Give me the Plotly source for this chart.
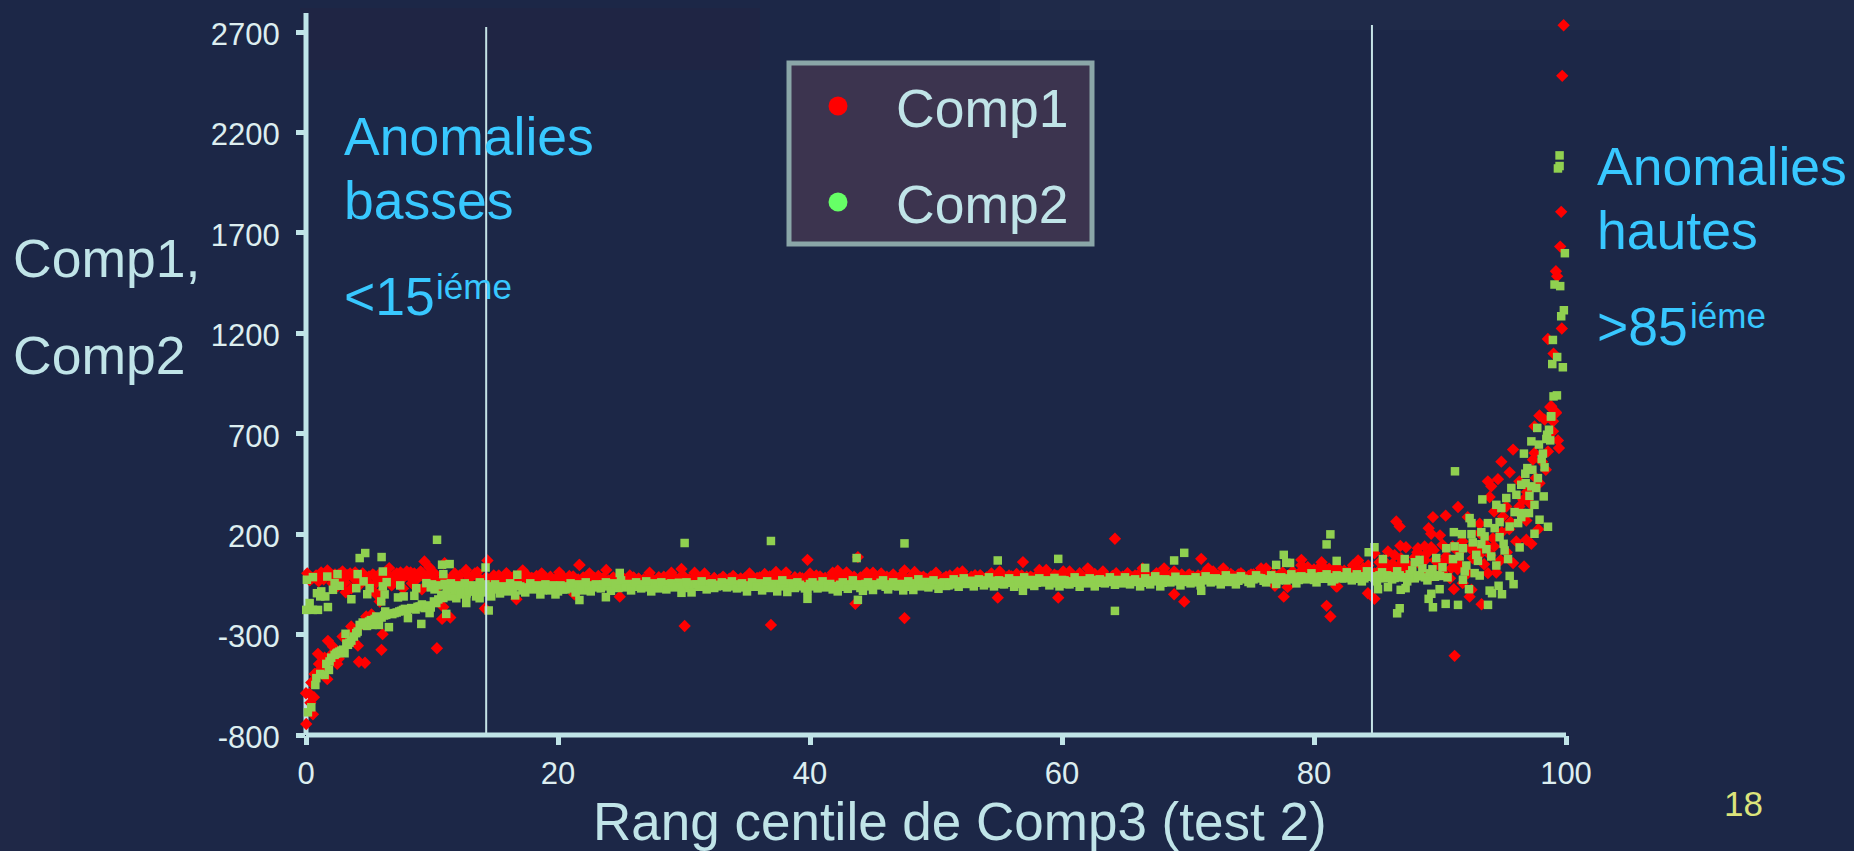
import plotly.graph_objects as go

W, H = 1854, 851
L, R, T, B = 306, 1566, 13, 735

TEXT = "#C0E4E8"
TICK_TEXT = "#DDEEF0"
CYAN = "#38C8FF"
RED = "#FF0000"
GREEN = "#90D050"
FONT = "Liberation Sans"

x_ticks = [0, 20, 40, 60, 80, 100]
y_ticks = [-800, -300, 200, 700, 1200, 1700, 2200, 2700]
y_tick_labels = ["-800", "-300", "200", "700", "1200", "1700", "2200", "2700"]
y_top = 2795
thresholds = [14.3, 84.6]
threshold_tops = [2725, 2735]
threshold_bottom = -790

# Comp1
comp1_low_x = [0.02, 0.55, 0.0, 0.29, 0.63, 0.42, 1.69, 0.68, 1.03, 2.48, 0.95, 1.74, 2.14, 1.48, 4.2, 4.68, 4.12, 5.99, 6.08, 3.59,
               4.78, 10.39, 10.8, 11.45, 10.9, 14.2, 16.7, 21.3, 3.15, 5.6, 5.85, 1.2, 2.0, 2.9, 3.4, 4.4, 5.2, 0.35, 1.4, 2.6]
comp1_low_y = [-745, -697, -592, -595, -612, -539, -522, -496, -446, -446, -396, -331, -360, -415, -435, -440, -355, -376, -298, -260,
               -210, -368, -222, -215, -163, -170, -124, -100, -89, -100, -135, -470, -400, -310, -300, -250, -200, -640, -490, -420]
comp1_left_x = [0.1, 0.3, 0.5, 0.8, 1.0, 1.2, 1.4, 1.7, 1.9, 2.1,
                2.3, 2.5, 2.7, 2.9, 3.1, 3.3, 3.6, 3.8, 4.0, 4.3,
                4.5, 4.7, 5.0, 5.2, 5.4, 5.6, 5.8, 6.0, 6.3, 6.5,
                6.6, 6.8, 7.0, 7.3, 7.5, 7.7, 8.0, 8.2, 8.4, 8.6,
                8.8, 9.0, 9.2, 9.4, 9.6, 9.8, 10.0, 10.2, 10.5, 10.8,
                11.0, 11.3, 11.6, 11.9, 12.2, 12.5, 12.7, 13.0, 13.3, 13.6,
                13.9, 14.1, 14.4, 14.7, 15.0, 15.3, 15.6, 15.9, 16.2, 16.5,
                1.1, 1.5, 1.8, 2.2, 2.6, 3.0, 3.5, 3.9, 4.2, 4.6,
                4.9, 5.3, 5.7, 6.1, 6.4, 6.9, 7.2, 7.6, 7.9, 8.3,
                8.7, 9.1, 9.5, 9.9, 10.4, 10.9, 11.4, 11.8, 12.3, 12.9,
                13.4, 13.8, 14.3, 14.9, 15.5, 16.1]
comp1_left_y = [5, -30, -20, -5, -35, 10, -25, 20, -10, -45,
                0, -60, -15, 15, -40, -5, -70, -20, 0, -50,
                5, -30, -10, -75, -5, -40, 0, -85, 10, -20,
                31, -55, -5, -30, 10, -70, 15, -10, -45, 5,
                -20, -5, -75, 64, -30, 34, -10, 5, -60, -25,
                56, -45, -15, -30, -5, -50, 22, -20, -70, 11,
                -30, -80, 69, -40, -15, -5, -50, 6, -25, -10,
                -15, -5, 5, -20, 0, -25, 5, 10, -30, -10,
                -40, 0, -20, 5, -35, -15, 5, -25, -5, 10,
                -30, 15, -10, 10, -35, -5, -25, 5, -40, -10,
                5, -25, -15, -5, -20, -10]
comp1_mid_x = [16.8, 17.2, 17.5, 17.9, 18.3, 18.7, 19.0, 19.4, 19.7, 20.1,
               20.5, 20.9, 21.7, 22.1, 22.5, 22.9, 23.2, 23.5, 23.83, 24.3,
               25.0, 25.7, 26.4, 27.27, 28.0, 29.0, 29.8, 30.84, 31.63, 32.4,
               33.1, 33.9, 34.5, 35.2, 35.8, 36.4, 37.3, 38.1, 38.8, 39.4,
               40.0, 40.5, 41.2, 41.8, 42.2, 42.9, 43.5, 44.5, 45.0, 45.65,
               46.1, 46.6, 47.5, 48.3, 49.0, 50.0, 50.6, 51.1, 51.7, 52.1,
               53.1, 53.5, 54.4, 55.05, 55.8, 56.4, 56.9, 57.5, 58.2, 58.75,
               59.4, 60.1, 60.6, 61.4, 62.05, 62.6, 63.25, 64.3, 65.2, 65.8,
               66.4, 67.5, 68.1, 68.9, 69.5, 70.1, 71.05, 71.6, 72.0, 72.8,
               73.4, 74.2, 75.0, 75.8, 76.2, 77.5, 78.3, 79.0, 79.5, 80.0,
               80.6, 81.2, 81.8, 82.4, 83.1, 83.5, 83.9, 84.3, 84.8, 85.2]
comp1_mid_y = [-12, 20, -2, -18, -8, 5, -22, -12, -28, 10,
               -18, -8, 47, -22, 5, -18, -8, -22, 22, -22,
               -18, -6, -22, 8, -14, 8, 27, 8, 4, -18,
               -12, -8, -20, 4, -18, 2, 12, 10, -14, -20,
               4, -6, -18, 8, 18, 10, -12, 8, 8, 4,
               -12, 0, 20, 12, -12, 8, -20, -6, 8, 14,
               -4, -4, 4, 14, -6, 2, 61, -12, 22, 22,
               -2, 14, 14, 6, 30, 2, 14, 6, 6, -6,
               30, 6, 30, 14, 0, 0, 77, 30, 14, 30,
               2, 6, 0, 30, 30, 10, 14, 45, 36, 24,
               45, 28, 36, 18, 45, 69, 32, 44, 105, 60]
# solid part of the red band, mostly hidden behind the green
comp1_fill_x = [15.2, 15.6, 16.0, 16.4, 16.8, 17.2, 17.6, 18.0, 18.4, 18.8,
                19.2, 19.6, 20.0, 20.4, 20.8, 21.2, 21.6, 22.0, 22.4, 22.8,
                23.2, 23.6, 24.0, 24.4, 24.8, 25.2, 25.6, 26.0, 26.4, 26.8,
                27.2, 27.6, 28.0, 28.4, 28.8, 29.2, 29.6, 30.0, 30.4, 30.8,
                31.2, 31.6, 32.0, 32.4, 32.8, 33.2, 33.6, 34.0, 34.4, 34.8,
                35.2, 35.6, 36.0, 36.4, 36.8, 37.2, 37.6, 38.0, 38.4, 38.8,
                39.2, 39.6, 40.0, 40.4, 40.8, 41.2, 41.6, 42.0, 42.4, 42.8,
                43.2, 43.6, 44.0, 44.4, 44.8, 45.2, 45.6, 46.0, 46.4, 46.8,
                47.2, 47.6, 48.0, 48.4, 48.8, 49.2, 49.6, 50.0, 50.4, 50.8,
                51.2, 51.6, 52.0, 52.4, 52.8, 53.2, 53.6, 54.0, 54.4, 54.8,
                55.2, 55.6, 56.0, 56.4, 56.8, 57.2, 57.6, 58.0, 58.4, 58.8,
                59.2, 59.6, 60.0, 60.4, 60.8, 61.2, 61.6, 62.0, 62.4, 62.8,
                63.2, 63.6, 64.0, 64.4, 64.8, 65.2, 65.6, 66.0, 66.4, 66.8,
                67.2, 67.6, 68.0, 68.4, 68.8, 69.2, 69.6, 70.0, 70.4, 70.8,
                71.2, 71.6, 72.0, 72.4, 72.8, 73.2, 73.6, 74.0, 74.4, 74.8,
                75.2, 75.6, 76.0, 76.4, 76.8, 77.2, 77.6, 78.0, 78.4, 78.8,
                79.2, 79.6, 80.0, 80.4, 80.8, 81.2, 81.6, 82.0, 82.4, 82.8,
                83.2, 83.6, 84.0, 84.4, 84.8, 85.2, 85.6, 86.0, 86.4, 86.8]
comp1_fill_y = [-20, -25, -15, -30, -25, -10, -30, -20, -25, -15,
                -25, -30, -15, -20, -30, -10, -25, -15, -30, -20,
                -25, -20, -30, -15, -25, -20, -30, -15, -22, -25,
                -15, -30, -20, -12, -25, -15, -20, -10, -25, -18,
                -20, -15, -30, -20, -25, -18, -22, -15, -28, -20,
                -12, -25, -15, -20, -10, -25, -18, -12, -28, -20,
                -15, -25, -18, -22, -10, -28, -15, -20, -8, -25,
                -12, -22, -15, -10, -25, -12, -18, -22, -15, -20,
                -8, -25, -12, -20, -15, -22, -10, -18, -25, -12,
                -20, -15, -8, -18, -12, -22, -10, -15, -12, -20,
                -5, -15, -10, -18, -5, -12, -15, -5, -10, -5,
                -15, -8, -5, -12, -8, -15, -5, -10, 0, -12,
                -5, -15, -8, -5, -12, -8, -15, -5, 0, -8,
                -12, -5, 0, -8, -5, -10, -12, -5, -10, -5,
                0, 5, -5, -8, 0, -5, -8, 0, -5, -8,
                0, 5, 5, -5, 0, -5, 0, -5, 5, 5,
                10, 5, 0, 10, 15, 5, 15, 5, 10, 15,
                5, 20, 10, 15, 5, 20, 30, 15, 40, 25]
comp1_out_x = [21.7, 39.8, 43.8, 24.9, 30.05, 36.9, 43.6, 47.5, 64.2, 54.9,
               59.7, 68.9, 69.7, 81.0, 81.3, 77.6, 76.9, 77.9, 81.85, 81.77,
               84.28, 84.8, 79.0, 80.6]
comp1_out_y = [47, 72, 86, -111, -257, -252, -147, -218, 177, -116,
               -116, -99, -136, -157, -210, -111, -57, -64, -60, -61,
               -94, -122, 72, 60]
comp1_high_x = [85.87, 86.53, 86.8, 86.85, 87.3, 88.25, 88.78, 89.1, 89.3, 89.3,
                89.44, 90.0, 90.2, 90.45, 91.0, 91.1, 91.16, 91.43, 91.8, 91.8,
                92.2, 92.35, 92.5, 93.15, 93.15, 93.3, 93.8, 93.8, 93.94, 94.07,
                94.3, 94.3, 94.47, 94.6, 94.87, 95.0, 95.26, 95.5, 95.53, 95.8,
                95.8, 96.05, 96.3, 96.3, 96.6, 96.67, 96.85, 96.85, 97.25, 97.38,
                97.5, 97.5, 97.8, 97.9, 97.9, 98.3, 98.4, 98.57, 98.83, 98.97,
                98.97, 99.2, 99.36, 99.44, 97.9, 98.75, 99.2, 99.01, 98.56, 99.67,
                99.3, 99.2, 99.54, 99.62, 99.7, 99.81,
                85.5, 86.0, 86.4, 87.0, 87.6, 88.0, 88.4, 88.9, 89.6, 90.0,
                90.5, 91.0, 91.5, 92.0, 92.6, 93.0, 93.5, 94.0, 94.8, 95.3,
                85.9, 86.5, 87.2, 87.8, 88.6, 89.2, 90.2, 90.8, 91.4, 92.2,
                86.2, 86.9, 87.5, 88.2, 88.8, 89.5, 90.3, 90.9, 91.6, 92.4,
                93.1, 93.6, 94.2, 94.9, 95.6, 96.2, 96.9, 97.2, 97.6, 98.1]
comp1_high_y = [114, 263, 238, 142, 135, 130, 139, 230, 202, 135,
                285, 194, 147, 292, 139, -74, -406, 335, 164, -44,
                285, -111, -77, 252, 205, -149, 463, 6, 385, 438,
                313, 139, 9, 474, 561, 288, 338, 225, 508, 621,
                56, 164, 463, 338, 371, 39, 268, 172, 152, 571,
                737, 604, 225, 790, 454, 770, 521, 612, 837, 712,
                762, 807, 667, 629, 790, 833, 803, 1099, 1172, 1224,
                1484, 1509, 1632, 1805, 2482, 2734,
                70, 40, 95, 60, 30, 85, 50, 100, 70, 40,
                90, 60, 110, 25, 80, 120, 50, 95, 70, 110,
                10, -5, 15, -10, 5, -15, 10, -20, 25, 5,
                50, 80, 45, 110, 70, 120, 65, 30, 45, 130,
                95, 150, 180, 210, 260, 310, 410, 350, 480, 560]

# Comp2
comp2_curve_x = [0.15, 0.42, 0.74, 0.82, 1.13, 1.48, 1.82, 1.61, 1.87, 2.27,
                 2.8, 3.06, 3.33, 3.6, 3.99, 4.26, 4.84, 5.31, 5.79, 5.58,
                 6.37, 7.03, 7.7, 8.09, 8.35, 9.02, 9.81, 9.41, 10.34, 10.74,
                 11.13, 11.93, 12.72, 13.78, 2.5, 3.2, 4.5, 5.0, 6.0, 6.7,
                 7.4, 8.0, 8.7, 9.2, 9.9, 10.5, 11.5,
                 2.0, 2.4, 2.65, 2.95, 3.45, 3.8, 4.1, 4.65, 5.15, 5.45,
                 6.2, 6.85, 7.2, 7.55, 7.85, 8.5, 8.85, 9.55, 10.15, 10.9]
comp2_curve_y = [-687, -662, -551, -517, -496, -501, -476, -446, -434, -401,
                 -380, -393, -351, -330, -293, -252, -257, -252, -252, -210,
                 -202, -193, -177, -218, -168, -160, -193, -168, -143, -102,
                 -102, -119, -102, -119, -390, -345, -240, -235, -215, -195,
                 -185, -180, -175, -150, -165, -125, -110,
                 -415, -395, -385, -375, -340, -310, -285, -245, -228, -222,
                 -205, -198, -190, -182, -172, -170, -162, -155, -135, -118]
comp2_upper_x = [10.4, 4.7, 4.26, 6.0, 11.4, 10.8, 14.25, 6.1, 10.9, 4.1,
                 2.5, 1.69, 0.55, 0.07, 16.77, 6.4, 4.57, 2.27, 2.67, 7.48,
                 2.14, 5.05, 3.99, 6.1, 1.21, 0.87, 1.13, 1.53, 4.86, 6.24,
                 3.6, 5.97, 7.3, 7.75, 0.29, 1.74, 0.02, 0.55, 0.95, 9.55,
                 8.75, 8.6, 12.72, 11.13, 14.5, 9.15, 6.58, 6.29, 3.14, 21.7,
                 10.0, 10.6, 11.0, 11.5, 12.0, 9.9, 10.2, 11.2, 11.8]
comp2_upper_y = [172, 106, 81, 86, 51, 48, 34, 14, 1, 1,
                 1, -11, -14, -27, -2, -39, -35, -44, -57, -55,
                 -77, -69, -69, -60, -85, -94, -110, -110, -99, -100,
                 -124, -135, -115, -110, -143, -163, -177, -177, -177, -44,
                 -69, -107, -143, -197, -180, -247, -263, -185, -296, -128,
                 -50, -55, -48, -45, -55, -65, -75, -70, -80]
comp2_band_x = [12.0, 12.3, 12.6, 12.9, 13.2, 13.5, 13.8, 14.1, 14.4, 14.7,
                15.0, 15.4, 15.8, 16.2, 16.6, 17.0, 17.4, 17.8, 18.2, 18.6,
                19.0, 19.4, 19.8, 20.2, 20.6, 21.0, 21.4, 21.8, 22.2, 22.6,
                23.0, 23.4, 23.8, 24.2, 24.6, 25.0, 25.4, 25.8, 26.2, 26.6,
                27.0, 27.4, 27.8, 28.2, 28.6, 29.0, 29.4, 29.8, 30.2, 30.6,
                31.0, 31.4, 31.8, 32.2, 32.6, 33.0, 33.4, 33.8, 34.2, 34.6,
                35.0, 35.4, 35.8, 36.2, 36.6, 37.0, 37.4, 37.8, 38.2, 38.6,
                39.0, 39.4, 39.8, 40.2, 40.6, 41.0, 41.4, 41.8, 42.2, 42.6,
                43.0, 43.4, 43.8, 44.2, 44.6, 45.0, 45.4, 45.8, 46.2, 46.6,
                47.0, 47.4, 47.8, 48.2, 48.6, 49.0, 49.4, 49.8, 50.2, 50.6,
                51.0, 51.4, 51.8, 52.2, 52.6, 53.0, 53.4, 53.8, 54.2, 54.6,
                55.0, 55.4, 55.8, 56.2, 56.6, 57.0, 57.4, 57.8, 58.2, 58.6,
                59.0, 59.4, 59.8, 60.2, 60.6, 61.0, 61.4, 61.8, 62.2, 62.6,
                63.0, 63.4, 63.8, 64.2, 64.6, 65.0, 65.4, 65.8, 66.2, 66.6,
                67.0, 67.4, 67.8, 68.2, 68.6, 69.0, 69.4, 69.8, 70.2, 70.6,
                71.0, 71.4, 71.8, 72.2, 72.6, 73.0, 73.4, 73.8, 74.2, 74.6,
                75.0, 75.4, 75.8, 76.2, 76.6, 77.0, 77.4, 77.8, 78.2, 78.6,
                79.0, 79.4, 79.8, 80.2, 80.6, 81.0, 81.4, 81.8, 82.2, 82.6,
                83.0, 83.4, 83.8, 84.2, 84.6, 85.0, 85.4, 85.8, 86.2, 86.6,
                87.0, 87.4, 87.8, 88.2, 88.6, 89.0, 89.4, 89.8, 90.2, 90.6]
comp2_band_y = [-60, -100, -45, -85, -55, -110, -40, -90, -60, -110,
                -50, -95, -65, -45, -105, -60, -90, -45, -70, -100,
                -50, -80, -100, -55, -75, -45, -90, -60, -40, -85,
                -50, -70, -40, -82, -50, -30, -65, -80, -40, -70,
                -35, -85, -50, -40, -75, -45, -60, -92, -40, -90,
                -50, -35, -75, -45, -60, -40, -65, -35, -70, -45,
                -85, -40, -60, -80, -35, -55, -85, -30, -88, -50,
                -40, -60, -82, -40, -70, -35, -55, -75, -85, -40,
                -72, -30, -50, -82, -40, -78, -55, -30, -75, -40,
                -60, -80, -35, -78, -25, -50, -65, -30, -72, -40,
                -55, -25, -62, -20, -45, -60, -25, -55, -15, -60,
                -30, -50, -20, -62, -40, -15, -50, -58, -20, -40,
                -55, -18, -60, -30, -50, -15, -62, -35, -20, -60,
                -25, -45, -15, -52, -30, -15, -50, -25, -60, -20,
                -50, -10, -60, -25, -40, -12, -55, -25, -45, -15,
                -55, -10, -40, -20, -50, -5, -30, -50, -10, -25,
                -45, -5, -20, -40, -5, -48, -15, -30, 0, -45,
                -10, -25, 5, -40, -10, 0, -35, -5, -20, 10,
                -30, 0, -35, 15, -10, -35, 10, -5, -25, 15,
                -15, -35, 20, -10, 30, -30, 25, -5, 35, -15]
comp2_fill_x = [12.15, 12.45, 12.75, 13.05, 13.35, 13.65, 13.95, 14.25, 14.55, 14.85,
                15.2, 15.6, 16.0, 16.4, 16.8, 17.2, 17.6, 18.0, 18.4, 18.8,
                19.2, 19.6, 20.0, 20.4, 20.8, 21.2, 21.6, 22.0, 22.4, 22.8,
                23.2, 23.6, 24.0, 24.4, 24.8, 25.2, 25.6, 26.0, 26.4, 26.8,
                27.2, 27.6, 28.0, 28.4, 28.8, 29.2, 29.6, 30.0, 30.4, 30.8,
                31.2, 31.6, 32.0, 32.4, 32.8, 33.2, 33.6, 34.0, 34.4, 34.8,
                35.2, 35.6, 36.0, 36.4, 36.8, 37.2, 37.6, 38.0, 38.4, 38.8,
                39.2, 39.6, 40.0, 40.4, 40.8, 41.2, 41.6, 42.0, 42.4, 42.8,
                43.2, 43.6, 44.0, 44.4, 44.8, 45.2, 45.6, 46.0, 46.4, 46.8,
                47.2, 47.6, 48.0, 48.4, 48.8, 49.2, 49.6, 50.0, 50.4, 50.8,
                51.2, 51.6, 52.0, 52.4, 52.8, 53.2, 53.6, 54.0, 54.4, 54.8,
                55.2, 55.6, 56.0, 56.4, 56.8, 57.2, 57.6, 58.0, 58.4, 58.8,
                59.2, 59.6, 60.0, 60.4, 60.8, 61.2, 61.6, 62.0, 62.4, 62.8,
                63.2, 63.6, 64.0, 64.4, 64.8, 65.2, 65.6, 66.0, 66.4, 66.8,
                67.2, 67.6, 68.0, 68.4, 68.8, 69.2, 69.6, 70.0, 70.4, 70.8,
                71.2, 71.6, 72.0, 72.4, 72.8, 73.2, 73.6, 74.0, 74.4, 74.8,
                75.2, 75.6, 76.0, 76.4, 76.8, 77.2, 77.6, 78.0, 78.4, 78.8,
                79.2, 79.6, 80.0, 80.4, 80.8, 81.2, 81.6, 82.0, 82.4, 82.8,
                83.2, 83.6, 84.0, 84.4, 84.8, 85.2, 85.6, 86.0, 86.4, 86.8,
                87.2, 87.6, 88.0, 88.4, 88.8, 89.2, 89.6, 90.0]
comp2_fill_y = [-75, -65, -95, -70, -85, -60, -75, -50, -85, -70,
                -75, -60, -85, -70, -55, -80, -65, -75, -55, -80,
                -70, -55, -85, -75, -60, -70, -50, -80, -65, -55,
                -65, -50, -60, -45, -68, -55, -48, -62, -55, -50,
                -65, -45, -70, -58, -48, -65, -42, -58, -68, -50,
                -62, -55, -48, -68, -52, -58, -45, -60, -50, -65,
                -55, -62, -45, -55, -68, -48, -60, -55, -45, -68,
                -52, -70, -48, -60, -52, -65, -48, -58, -52, -62,
                -50, -58, -68, -48, -60, -50, -42, -62, -50, -58,
                -48, -62, -52, -45, -60, -38, -55, -45, -52, -58,
                -40, -50, -35, -48, -32, -42, -38, -30, -45, -32,
                -48, -35, -42, -30, -48, -35, -28, -42, -38, -30,
                -45, -35, -28, -48, -35, -42, -30, -45, -38, -28,
                -42, -32, -38, -28, -45, -35, -30, -38, -42, -30,
                -35, -25, -42, -30, -35, -25, -38, -30, -25, -40,
                -30, -20, -35, -28, -25, -38, -18, -32, -22, -38,
                -25, -18, -32, -25, -15, -30, -20, -25, -12, -28,
                -20, -15, -28, -12, -22, -15, -25, -10, -20, -12,
                -22, -10, -20, -12, -18, -5, -20, -10, -18, -5,
                -15, 0, -20, -5, -15, 5, -12, -8]
comp2_out_x = [30.05, 36.9, 47.5, 43.7, 43.8, 39.8, 23.8, 24.9, 54.9, 59.7,
               64.2, 69.7, 68.9, 66.6, 71.05, 81.3, 81.0, 77.6, 78.1, 77.8,
               77.0, 81.8, 56.9, 84.34, 84.8, 85.47, 85.08, 85.87, 86.88, 87.27,
               86.6, 86.8]
comp2_out_y = [156, 166, 154, 81, -127, -122, -114, 7, 69, 77,
               -182, 107, 69, 32, -82, 199, 149, 97, 57, 57,
               47, 67, -82, 110, 135, 76, -74, -64, -77, -69,
               -194, -169]
comp2_high_x = [87.2, 88.0, 88.38, 89.1, 89.31, 89.44, 89.7, 89.97, 90.45, 90.5,
                91.03, 91.1, 91.16, 91.19, 91.43, 91.56, 91.74, 91.82, 91.82, 91.96,
                92.09, 92.3, 92.35, 92.5, 92.5, 92.6, 92.75, 92.88, 93.01, 93.15,
                93.28, 93.28, 93.36, 93.54, 93.68, 93.8, 93.81, 93.94, 94.07, 94.13,
                94.34, 94.47, 94.47, 94.65, 94.73, 94.73, 94.87, 94.92, 95.05, 95.13,
                95.26, 95.4, 95.53, 95.53, 95.66, 95.84, 95.92, 96.06, 96.2, 96.32,
                96.45, 96.45, 96.45, 96.66, 96.77, 96.8, 96.93, 97.06, 97.1, 97.25,
                97.25, 97.33, 97.5, 97.5, 97.64, 97.72, 97.77, 97.85, 97.9, 98.07,
                98.17, 98.23, 98.3, 98.44, 98.5, 98.57, 98.65, 98.75, 98.83, 98.8,
                98.91, 98.96, 99.01, 99.09, 99.28, 99.3, 99.36, 99.49, 99.49, 99.54,
                99.62, 99.75, 99.83, 99.91]
comp2_high_y = [76, 60, 72, -122, -97, -164, 81, -74, -147, 130,
                76, 210, 139, 513, -152, 89, 200, -27, 130, 14,
                44, -74, 280, 255, 200, 159, 6, 97, 67, -6,
                210, 150, 373, 189, 125, 255, -152, -81, 89, -94,
                230, 346, 44, -57, 260, 185, 330, -99, 152, 119,
                380, 76, 238, -8, 430, -49, 310, 396, 255, 134,
                446, 305, 285, 601, 501, 454, 529, 305, 391, 662,
                438, 521, 346, 202, 430, 729, 479, 646, 272, 574,
                601, 388, 533, 674, 695, 237, 720, 667, 787, 786,
                1047, 1167, 886, 1443, 891, 1082, 2021, 2086, 2033, 1435,
                1285, 1031, 1315, 1599]

legend_names = ["Comp1", "Comp2"]
legend_colors = ["#FF0000", "#66FF66"]


def px(x):
    return (x - L) / (R - L)


def py(y):
    return (B - y) / (B - T)


def label(text, x, baseline, size=53.5, color=TEXT, anchor="left"):
    # annotation box sits on the baseline plus the font descent
    return dict(text=text, x=px(x), y=py(baseline + size * 0.26), xref="paper", yref="paper",
                xanchor=anchor, yanchor="bottom", showarrow=False, borderpad=0,
                font=dict(family=FONT, size=size, color=color))


def faint(x0, y0, x1, y1, color):
    # the slide background is not quite flat
    return dict(type="rect", xref="paper", yref="paper", layer="below", x0=px(x0), x1=px(x1),
                y0=py(y1), y1=py(y0), fillcolor=color, line=dict(width=0))


fig = go.Figure()

fig.add_trace(go.Scatter(
    x=comp1_low_x + comp1_left_x + comp1_fill_x + comp1_mid_x + comp1_out_x + comp1_high_x,
    y=comp1_low_y + comp1_left_y + comp1_fill_y + comp1_mid_y + comp1_out_y + comp1_high_y,
    mode="markers", name="Comp1", cliponaxis=False,
    marker=dict(symbol="diamond", size=9.5, color=RED),
))
fig.add_trace(go.Scatter(
    x=comp2_curve_x + comp2_upper_x + comp2_fill_x + comp2_band_x + comp2_out_x + comp2_high_x,
    y=comp2_curve_y + comp2_upper_y + comp2_fill_y + comp2_band_y + comp2_out_y + comp2_high_y,
    mode="markers", name="Comp2", cliponaxis=False,
    marker=dict(symbol="square", size=8.5, color=GREEN),
))

# the two percentile limits
for tx, top in zip(thresholds, threshold_tops):
    fig.add_trace(go.Scatter(x=[tx, tx], y=[threshold_bottom, top], mode="lines", showlegend=False,
                             line=dict(color="#C5E3E6", width=2)))

annotations = [
    label("Comp1,", 12, 275),
    label("Comp2", 12, 372),
    label("Anomalies", 343, 153, color=CYAN),
    label("basses", 343, 217, color=CYAN),
    label("&lt;15", 343, 313, color=CYAN),
    label("iéme", 435, 298, size=35, color=CYAN),
    label("Anomalies", 1596, 183, color=CYAN),
    label("hautes", 1596, 247, color=CYAN),
    label("&gt;85", 1596, 343, color=CYAN),
    label("iéme", 1689, 327, size=35, color=CYAN),
    label("Rang centile de Comp3 (test 2)", 960, 838, size=53, anchor="center"),
    label("18", 1743, 815, size=35, color="#DCE47B", anchor="center"),
]
for name, base in zip(legend_names, [125, 221]):
    annotations.append(label(name, 895, base))

shapes = [
    faint(300, 8, 760, 70, "rgba(60,20,50,0.10)"),
    faint(1000, 0, 1854, 30, "rgba(90,90,110,0.05)"),
    faint(1680, 30, 1854, 110, "rgba(90,90,110,0.04)"),
    faint(0, 600, 60, 851, "rgba(90,60,80,0.06)"),
    faint(1300, 360, 1560, 560, "rgba(90,90,110,0.03)"),
    # axis lines, drawn centred on the edges of the plot area so they are not clipped
    dict(type="line", xref="paper", yref="paper", layer="below", x0=0, x1=1, y0=0, y1=0,
         line=dict(color=TEXT, width=5)),
    dict(type="line", xref="paper", yref="paper", layer="below", x0=0, x1=0, y0=0, y1=1,
         line=dict(color=TEXT, width=5)),
    dict(type="rect", xref="paper", yref="paper", x0=px(789), x1=px(1092), y0=py(244), y1=py(63),
         fillcolor="#3C344F", line=dict(color="#8AA6A8", width=5)),
]
for color, cy in zip(legend_colors, [106, 202]):
    shapes.append(dict(type="circle", xref="paper", yref="paper", x0=px(828.5), x1=px(847.5),
                       y0=py(cy + 9.5), y1=py(cy - 9.5), fillcolor=color, line=dict(width=0)))

fig.update_layout(
    width=W, height=H,
    margin=dict(l=L, r=W - R, t=T, b=H - B),
    paper_bgcolor="#1C2747", plot_bgcolor="rgba(0,0,0,0)",
    showlegend=False,
    font=dict(family=FONT),
    annotations=annotations, shapes=shapes,
)
axis_style = dict(
    showgrid=False, zeroline=False, showline=False,
    ticks="outside", ticklen=9, tickwidth=5, tickcolor=TEXT, layer="below traces",
    tickfont=dict(family=FONT, size=31, color=TICK_TEXT),
)
fig.update_xaxes(range=[0, 100], tickmode="array", tickvals=x_ticks, ticklabelstandoff=2, **axis_style)
fig.update_yaxes(range=[-800, y_top], tickmode="array", tickvals=y_ticks, ticktext=y_tick_labels,
                 ticklabelstandoff=10, ticklabelshift=2, **axis_style)

fig.write_html("out.html", config=dict(displayModeBar=False),
               post_script="document.body.style.margin='0';")
